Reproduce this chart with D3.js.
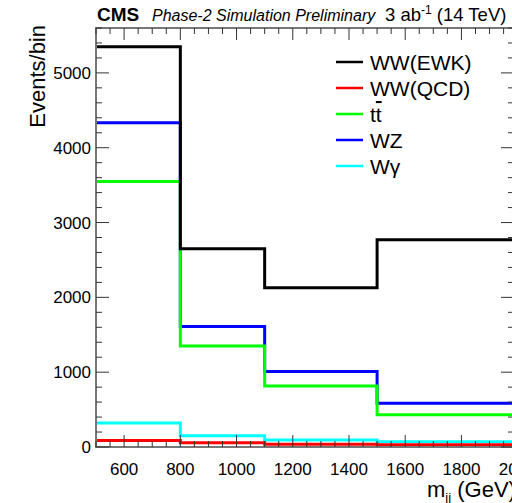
<!DOCTYPE html>
<html>
<head>
<meta charset="utf-8">
<script src="https://cdn.jsdelivr.net/npm/d3@7"></script>
<style>
  body { margin: 0; background: #fff; }
  svg { display: block; font-family: "Liberation Sans", Arial, sans-serif; }
</style>
</head>
<body>
<svg id="chart" width="512" height="503"></svg>
<script>
// bin edges (GeV) and yields per process
const binEdges = [500, 800, 1100, 1500, 2100];
const wwEWK = [5350, 2650, 2130, 2770];
const wwQCD = [88, 57, 37, 30];
const ttbar = [3550, 1350, 815, 430];
const wz    = [4335, 1610, 1010, 585];
const wgamma = [320, 150, 93, 70];

const series = [
  { name: "WW(EWK)", values: wwEWK, color: "#000000" },
  { name: "WW(QCD)", values: wwQCD, color: "#ff0000" },
  { name: "tt", values: ttbar, color: "#00ff00", bar: true },
  { name: "WZ", values: wz, color: "#0000ff" },
  { name: "Wγ", values: wgamma, color: "#00ffff" }
];
// later ones are drawn on top
const drawOrder = [4, 3, 2, 1, 0];

const xTicks = [600, 800, 1000, 1200, 1400, 1600, 1800, 2000];
const yTicks = [0, 1000, 2000, 3000, 4000, 5000];

const svg = d3.select("#chart");
const mLeft = 96, mRight = 514, mTop = 28, mBottom = 447;

const x = d3.scaleLinear().domain([500, 1987]).range([mLeft, mRight]);
const y = d3.scaleLinear().domain([0, 5600]).range([mBottom, mTop]);

const axisColor = "#777";

// histograms
const line = d3.line().curve(d3.curveStepAfter).x(d => x(d[0])).y(d => y(d[1]));
const plot = svg.append("g");
plot.append("clipPath").attr("id", "clip")
  .append("rect").attr("x", mLeft).attr("y", mTop).attr("width", mRight - mLeft).attr("height", mBottom - mTop);

drawOrder.forEach(i => {
  const s = series[i];
  const pts = s.values.map((v, j) => [binEdges[j], v]);
  pts.push([binEdges[binEdges.length - 1], s.values[s.values.length - 1]]);
  plot.append("path")
    .attr("clip-path", "url(#clip)")
    .attr("d", line(pts))
    .attr("fill", "none")
    .attr("stroke", s.color)
    .attr("stroke-width", 3);
});

// frame
svg.append("rect")
  .attr("x", mLeft).attr("y", mTop)
  .attr("width", mRight - mLeft).attr("height", mBottom - mTop)
  .attr("fill", "none").attr("stroke", axisColor).attr("stroke-width", 2);

// ticks on all four sides, ROOT style pointing inward
const xMinor = d3.range(500, 2001, 50);
const tickG = svg.append("g").attr("stroke", "#333").attr("stroke-width", 1);
xMinor.forEach(v => {
  const major = v % 200 === 0;
  const len = major ? 12 : 6;
  tickG.append("line").attr("x1", x(v)).attr("x2", x(v)).attr("y1", mBottom).attr("y2", mBottom - len);
  tickG.append("line").attr("x1", x(v)).attr("x2", x(v)).attr("y1", mTop).attr("y2", mTop + len);
});
const yMinor = d3.range(0, 5601, 200);
yMinor.forEach(v => {
  const major = v % 1000 === 0;
  const len = major ? 13 : 6;
  tickG.append("line").attr("x1", mLeft).attr("x2", mLeft + len).attr("y1", y(v)).attr("y2", y(v));
  tickG.append("line").attr("x1", mRight).attr("x2", mRight - len).attr("y1", y(v)).attr("y2", y(v));
});

// tick labels
svg.append("g").selectAll("text").data(xTicks).join("text")
  .attr("x", d => x(d)).attr("y", 475)
  .attr("text-anchor", "middle").attr("font-size", 17)
  .text(d => d);
svg.append("g").selectAll("text").data(yTicks).join("text")
  .attr("x", 91).attr("y", d => y(d) + 6)
  .attr("text-anchor", "end").attr("font-size", 17)
  .text(d => d);

// axis titles
svg.append("text")
  .attr("transform", "translate(45,25) rotate(-90)")
  .attr("text-anchor", "end").attr("font-size", 22)
  .text("Events/bin");

const xt = svg.append("text").attr("x", 427).attr("y", 497).attr("font-size", 22);
xt.append("tspan").text("m");
xt.append("tspan").attr("font-size", 13).attr("dy", 5).text("jj");
xt.append("tspan").attr("dy", -5).text(" (GeV)");

// header
svg.append("text").attr("x", 97).attr("y", 21).attr("font-size", 19).attr("font-weight", "bold").text("CMS");
svg.append("text").attr("x", 152).attr("y", 21).attr("font-size", 16).attr("font-style", "italic")
  .text("Phase-2 Simulation Preliminary");
const lumi = svg.append("text").attr("x", 385).attr("y", 21).attr("font-size", 18.5);
lumi.append("tspan").text("3 ab");
lumi.append("tspan").attr("font-size", 12).attr("dy", -7).text("-1");
lumi.append("tspan").attr("dy", 7).text(" (14 TeV)");

// legend
const leg = svg.append("g");
series.forEach((s, i) => {
  const ly = 62 + i * 26;
  leg.append("line").attr("x1", 336).attr("x2", 363).attr("y1", ly).attr("y2", ly)
    .attr("stroke", s.color).attr("stroke-width", 2.5);
  const t = leg.append("text").attr("x", 370).attr("y", ly + 8).attr("font-size", 21);
  if (s.bar) {
    t.append("tspan").text("t");
    t.append("tspan").attr("text-decoration", "overline").text("t");
  } else {
    t.text(s.name);
  }
});
</script>
</body>
</html>
